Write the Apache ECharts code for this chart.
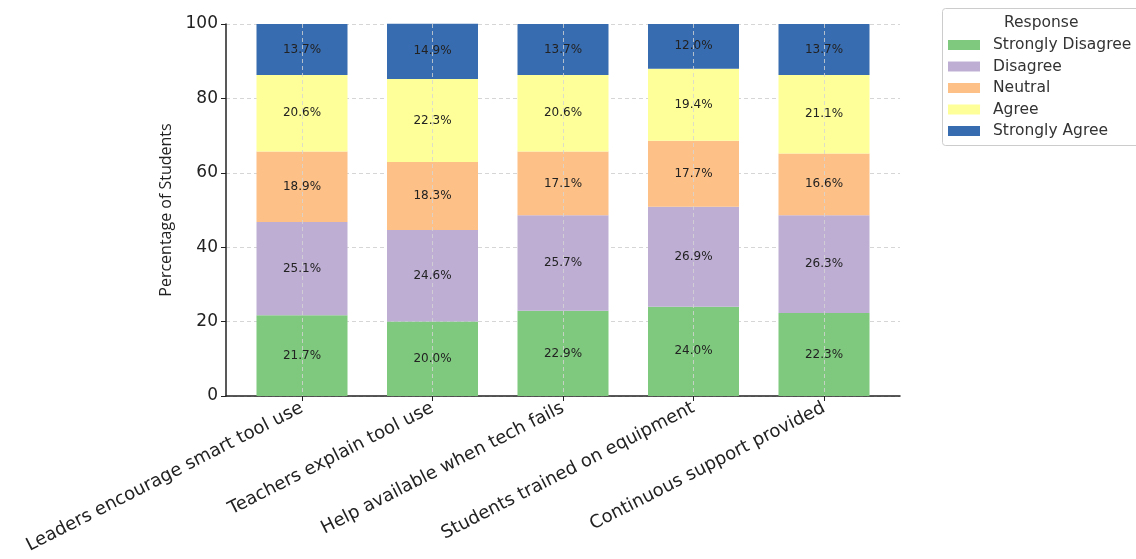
<!DOCTYPE html>
<html><head><meta charset="utf-8">
<script src="https://cdn.jsdelivr.net/npm/echarts@6/dist/echarts.min.js"></script>
<style>html,body{margin:0;padding:0;background:#fff}#c{width:1136px;height:559px}</style>
</head><body><div id="c"></div>
<script>
const categories = ["Leaders encourage smart tool use","Teachers explain tool use","Help available when tech fails","Students trained on equipment","Continuous support provided"];
const responses = ["Strongly Disagree","Disagree","Neutral","Agree","Strongly Agree"];
const stronglyDisagree = [21.7, 20.0, 22.9, 24.0, 22.3];
const disagree = [25.1, 24.6, 25.7, 26.9, 26.3];
const neutral = [18.9, 18.3, 17.1, 17.7, 16.6];
const agree = [20.6, 22.3, 20.6, 19.4, 21.1];
const stronglyAgree = [13.7, 14.9, 13.7, 12.0, 13.7];
const yTicks = [0, 20, 40, 60, 80, 100];
const colors = ["#7fc97f","#beaed4","#fdc086","#ffff99","#386cb0"];
const seriesData = [stronglyDisagree, disagree, neutral, agree, stronglyAgree];

const chart = echarts.init(document.getElementById('c'));
const font = "DejaVu Sans";
chart.setOption({
  animation:false,
  grid:[
    {left:302,right:312,top:24,bottom:163},
    {left:226,right:236,top:24,bottom:163}
  ],
  xAxis:[
    {type:'category',gridIndex:0,data:categories,boundaryGap:false,z:5,
     axisLine:{show:false},
     axisTick:{show:true,length:5,lineStyle:{color:'#222',width:1}},
     axisLabel:{rotate:27,fontSize:18,fontFamily:font,color:'#222',margin:11},
     splitLine:{show:true,lineStyle:{type:[4,3],color:'#d4d4d4',width:0.8}}},
    {type:'value',gridIndex:1,min:0,max:1,axisLine:{show:true,lineStyle:{color:'#222',width:1.5}},
     axisTick:{show:false},axisLabel:{show:false},splitLine:{show:false}}
  ],
  yAxis:[
    {type:'value',gridIndex:0,min:0,max:100,show:false},
    {type:'value',gridIndex:1,min:0,max:100,interval:20,
     name:'Percentage of Students',nameLocation:'middle',nameGap:52,
     nameTextStyle:{fontSize:16,fontFamily:'Open Sans',color:'#222'},
     axisLine:{show:true,lineStyle:{color:'#222',width:1.5}},
     axisTick:{show:true,length:5,lineStyle:{color:'#222'}},
     axisLabel:{fontSize:17,fontFamily:font,color:'#222',margin:8},
     splitLine:{show:true,lineStyle:{type:[4,3],color:'#cccccc',width:0.8}}}
  ],
  legend:{orient:'vertical',left:948,top:36,itemWidth:32,itemHeight:10,itemGap:3.5,padding:0,
    icon:'rect',textStyle:{fontSize:15.5,lineHeight:18,fontFamily:font,color:'#333',padding:[0,0,0,8]},data:responses},
  graphic:[
    {type:'rect',left:942,top:8,z:-1,shape:{width:210,height:137,r:3},style:{fill:'#fff',stroke:'#cccccc',lineWidth:1}},
    {type:'text',left:1004,top:15,style:{text:'Response',fontSize:15.5,fontFamily:font,fill:'#333'}}
  ],
  series: responses.map((r,i)=>({
    name:r,type:'bar',stack:'total',xAxisIndex:0,yAxisIndex:0,barWidth:91,clip:false,
    itemStyle:{color:colors[i]},
    label:{show:true,position:'inside',formatter:p=>p.value.toFixed(1)+'%',fontSize:12,fontFamily:font,color:'#222'},
    data:seriesData[i]
  }))
});
</script></body></html>
